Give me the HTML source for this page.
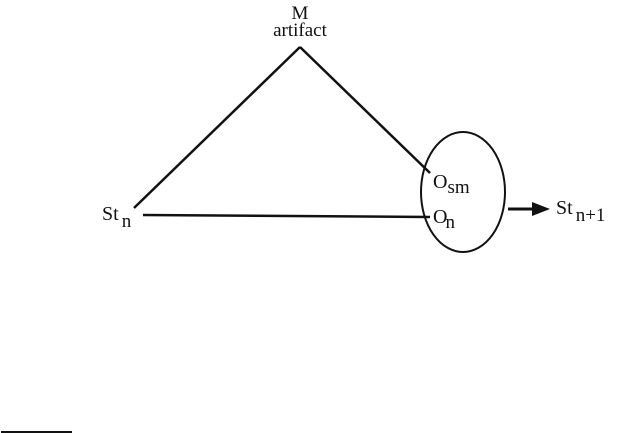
<!DOCTYPE html>
<html><head><meta charset="utf-8"><style>
html,body{margin:0;padding:0;background:#fff;}
svg{display:block;}
text{font-family:"Liberation Serif",serif;fill:#111;}
</style></head><body>
<svg width="620" height="433" viewBox="0 0 620 433">
<g stroke="#111" stroke-width="2.5" fill="none">
<line x1="134" y1="208" x2="300" y2="47"/>
<line x1="300" y1="47" x2="430" y2="173"/>
<line x1="143" y1="215" x2="430" y2="217"/>
<ellipse cx="463" cy="192" rx="42" ry="60" stroke-width="2"/>
<line x1="508" y1="209" x2="535" y2="209" stroke-width="3"/>
<line x1="1" y1="432" x2="72" y2="432" stroke-width="2"/>
</g>
<polygon points="532,202 550,209 532,216" fill="#111"/>
<text x="300" y="19" font-size="19" text-anchor="middle">M</text>
<text x="300" y="36" font-size="19" text-anchor="middle">artifact</text>
<text x="102" y="220" font-size="20">St<tspan font-size="19" dy="7" dx="3">n</tspan></text>
<text x="433" y="188" font-size="20">O<tspan font-size="19" dy="5">sm</tspan></text>
<text x="433" y="223" font-size="20">O<tspan font-size="19" dy="5" dx="-2">n</tspan></text>
<text x="556" y="214" font-size="20">St<tspan font-size="19" dy="7" dx="3">n+1</tspan></text>
</svg>
</body></html>
